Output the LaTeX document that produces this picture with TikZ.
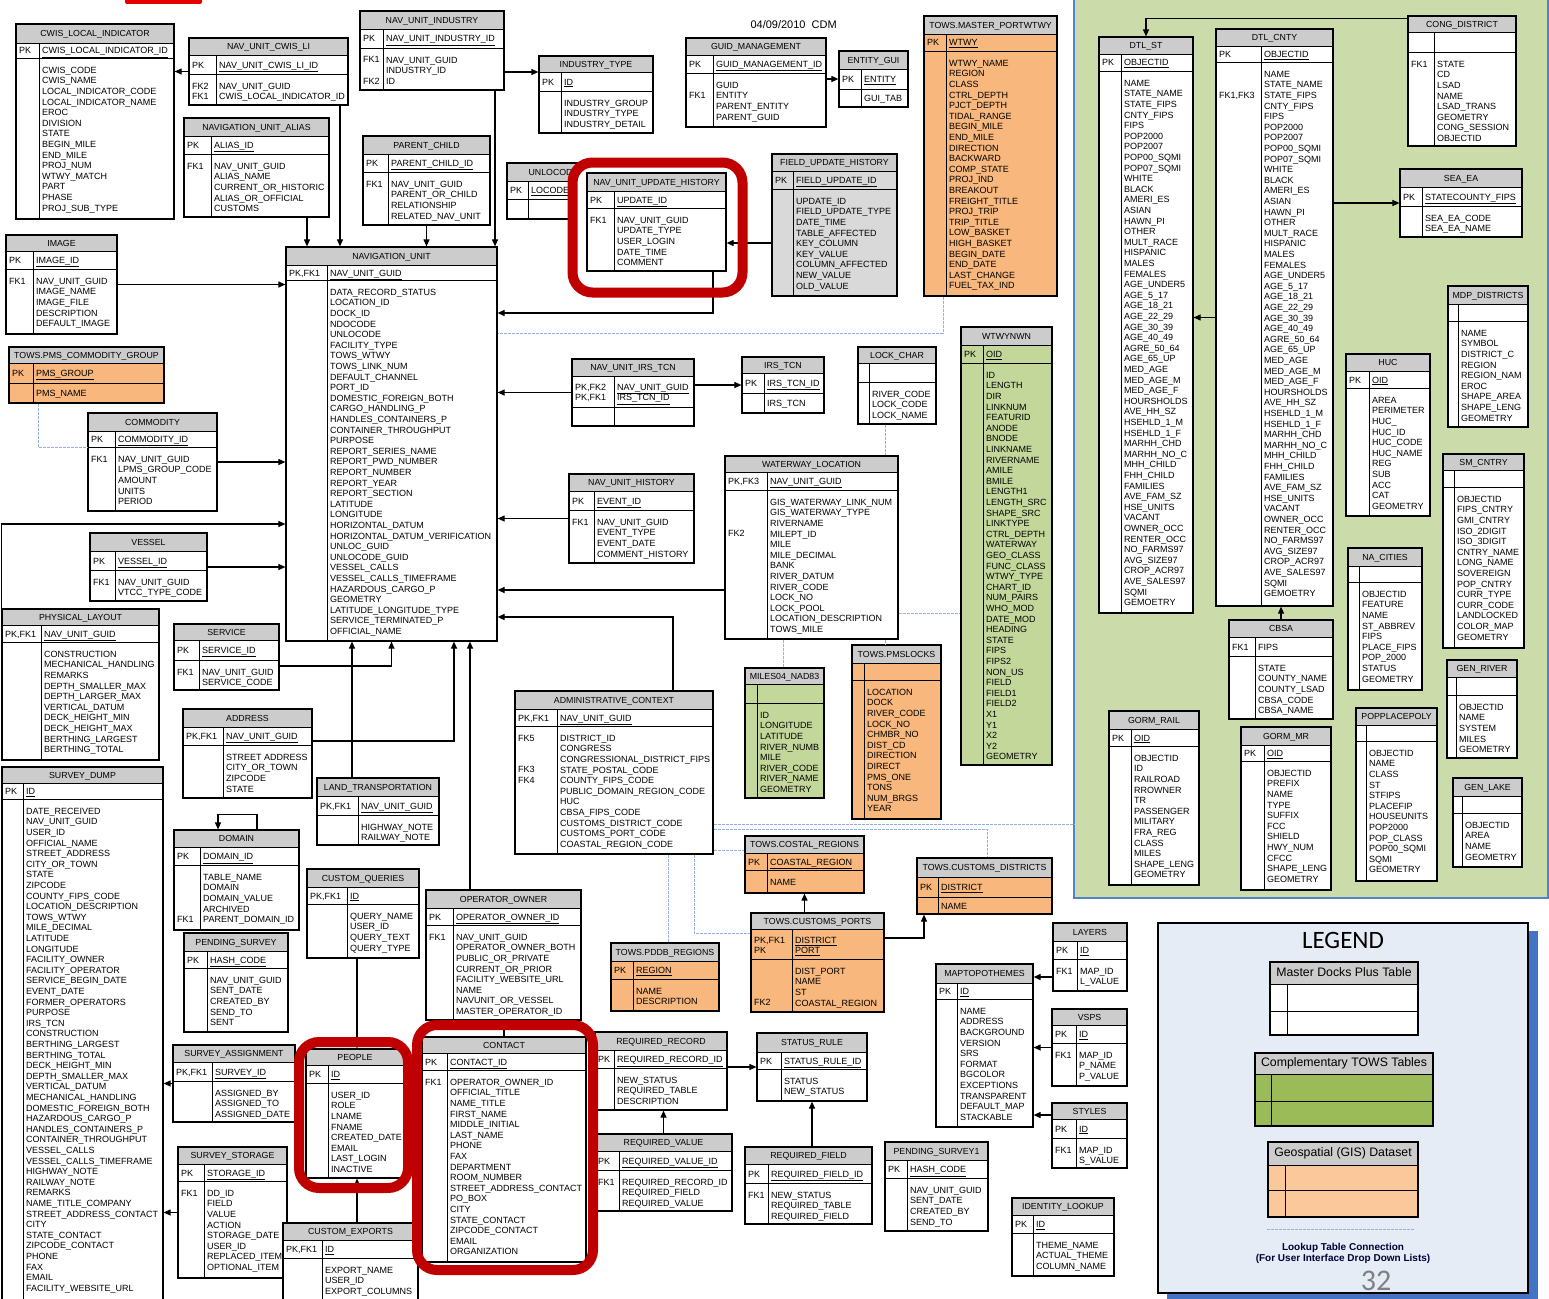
\documentclass[tikz,border=0pt]{standalone}
\usepackage{fontspec}
\setmainfont{Liberation Sans}
\newfontfamily\legendfont{Carlito}
\usetikzlibrary{arrows.meta,fit}

\definecolor{titlegray}{RGB}{204,204,204}
\definecolor{towsorange}{RGB}{247,183,125}
\definecolor{gislight}{RGB}{196,215,155}
\definecolor{fuhgray}{RGB}{217,217,217}
\definecolor{panelgreen}{RGB}{203,219,170}
\definecolor{panelblue}{RGB}{84,130,196}
\definecolor{lookupblue}{RGB}{150,175,225}
\definecolor{markred}{RGB}{192,0,0}
\definecolor{legendbg}{RGB}{230,236,246}
\definecolor{legendshadow}{RGB}{68,114,196}
\definecolor{legendgreen}{RGB}{155,187,89}
\definecolor{legendorange}{RGB}{250,200,155}

\newcommand{\erstrut}{\rule{0pt}{8pt}}
\newcommand{\pkul}[1]{\underline{#1}}
\newcommand{\legfont}{\fontsize{12.3}{14}\selectfont}
\def\erparse#1,#2,#3,#4,#5,#6,#7\relax{\def\erL{#1}\def\erT{#2}\def\erR{#3}\def\erK{#4}\def\erH{#5}\def\erP{#6}\def\erB{#7}}
% [body fill]{name}{left,top,right,key column}{title bottom,pk bottom,bottom}{title}{pk labels}{pk fields}{line/fk label}{fields}
\newcommand{\ertable}[9][white]{%
  \erparse#3,#4\relax
  \pgfmathsetmacro\erQ{\erH+min((\erP-\erH)/2+3.3,14)}%
  \pgfmathsetmacro\erF{\erP+min(15,(\erB-\erP)/2+3.3)}%
  \fill[#1] (\erL,\erH) rectangle (\erR,\erB);
  \fill[titlegray] (\erL,\erT) rectangle (\erR,\erH);
  \draw[erline] (\erL,\erH) -- (\erR,\erH) (\erL,\erP) -- (\erR,\erP) (\erK,\erH) -- (\erK,\erB);
  \node[erbox, fit={(\erL,\erT) (\erR,\erB)}] (#2) {};
  \node[ertitle] (#2t) at ({(\erL+\erR)/2},{(\erT+\erH)/2}) {#5};
  \node[ertext] (#2k) at (\erL,\erQ-8) {\erstrut#6};
  \node[ertext] (#2p) at (\erK,\erQ-8) {\erstrut#7};
  \node[ertext] (#2f) at (\erK,\erF-8) {\erstrut#9};
  \def\erfk{#8}%
  \ifx\erfk\empty\else
    \foreach \erline/\erlab in {#8}
      \node[ertext, anchor=base west] (#2fk\erline) at (\erL,{\erF+(\erline-1)*10.6}) {\erlab};
  \fi}

\begin{document}
\catcode`\_=12
\newcommand{\dtlfields}{NAME\\STATE_NAME\\STATE_FIPS\\CNTY_FIPS\\FIPS\\POP2000\\POP2007\\POP00_SQMI\\POP07_SQMI\\WHITE\\BLACK\\AMERI_ES\\ASIAN\\HAWN_PI\\OTHER\\MULT_RACE\\HISPANIC\\MALES\\FEMALES\\AGE_UNDER5\\AGE_5_17\\AGE_18_21\\AGE_22_29\\AGE_30_39\\AGE_40_49\\AGRE_50_64\\AGE_65_UP\\MED_AGE\\MED_AGE_M\\MED_AGE_F\\HOURSHOLDS\\AVE_HH_SZ\\HSEHLD_1_M\\HSEHLD_1_F\\MARHH_CHD\\MARHH_NO_C\\MHH_CHILD\\FHH_CHILD\\FAMILIES\\AVE_FAM_SZ\\HSE_UNITS\\VACANT\\OWNER_OCC\\RENTER_OCC\\NO_FARMS97\\AVG_SIZE97\\CROP_ACR97\\AVE_SALES97\\SQMI\\GEMOETRY}
\begin{tikzpicture}[x=1pt, y=-1pt,
  erbox/.style={draw, line width=1.2pt, inner sep=0pt},
  erline/.style={line width=0.9pt},
  ertitle/.style={inner sep=0pt, text height=6.4pt, text depth=0pt, font=\fontsize{8.8}{10}\selectfont},
  ertext/.style={anchor=north west, inner xsep=3pt, inner ysep=0pt, align=left, font=\fontsize{9}{10.6}\selectfont},
  fk/.style={draw, line width=1.1pt, -{Triangle[length=7pt, width=6pt]}},
  lookup/.style={draw=lookupblue, line width=0.8pt, dash pattern=on 3pt off 1pt},
  redmark/.style={draw=markred, line width=10pt, rounded corners=20pt}]
\useasboundingbox (0,0) rectangle (1549,1298);
\clip (0,0) rectangle (1549,1298);

% GIS panel and legend background
\fill[panelgreen] (1074,-2) rectangle (1548,898);
\draw[panelblue, line width=1.5pt] (1074,-2) -- (1074,898) -- (1548,898) -- (1548,-2);
\coordinate (gisedge) at (1074,824);
\fill[legendshadow] (1167,931) rectangle (1538,1302);
\filldraw[fill=legendbg, line width=1.2pt] (1158,923) rectangle (1528,1293);
\fill[red!90!black, rounded corners=2pt] (125,-4) rectangle (202,4);
\node[anchor=west, font=\fontsize{11}{12}\selectfont] (stamp) at (747,25) {04/09/2010\ \ CDM};

% master docks tables
\ertable{cwis}{16,24,174,39}{43,58,219}{CWIS_LOCAL_INDICATOR}{PK}{\pkul{CWIS_LOCAL_INDICATOR_ID}}{}{CWIS_CODE\\CWIS_NAME\\LOCAL_INDICATOR_CODE\\LOCAL_INDICATOR_NAME\\EROC\\DIVISION\\STATE\\BEGIN_MILE\\END_MILE\\PROJ_NUM\\WTWY_MATCH\\PART\\PHASE\\PROJ_SUB_TYPE}
\ertable{cwisli}{189,38,348,216}{55,74,105}{NAV_UNIT_CWIS_LI}{PK}{\pkul{NAV_UNIT_CWIS_LI_ID}}{1/FK2,2/FK1}{NAV_UNIT_GUID\\CWIS_LOCAL_INDICATOR_ID}
\ertable{alias}{184,118,329,211}{136,154,217}{NAVIGATION_UNIT_ALIAS}{PK}{\pkul{ALIAS_ID}}{1/FK1}{NAV_UNIT_GUID\\ALIAS_NAME\\CURRENT_OR_HISTORIC\\ALIAS_OR_OFFICIAL\\CUSTOMS}
\ertable{industry}{360,11,504,383}{29,48,90}{NAV_UNIT_INDUSTRY}{PK}{\pkul{NAV_UNIT_INDUSTRY_ID}}{1/FK1,3/FK2}{NAV_UNIT_GUID\\INDUSTRY_ID\\ID}
\ertable{indtype}{539,56,653,561}{72,91,133}{INDUSTRY_TYPE}{PK}{\pkul{ID}}{}{INDUSTRY_GROUP\\INDUSTRY_TYPE\\INDUSTRY_DETAIL}
\ertable{guid}{686,38,826,713}{55,73,127}{GUID_MANAGEMENT}{PK}{\pkul{GUID_MANAGEMENT_ID}}{2/FK1}{GUID\\ENTITY\\PARENT_ENTITY\\PARENT_GUID}
\ertable{entity}{839,51,908,861}{69,89,107}{ENTITY_GUI}{PK}{\pkul{ENTITY}}{}{GUI_TAB}
\ertable[towsorange]{portwtwy}{924,16,1057,946}{34,51,296}{TOWS.MASTER_PORTWTWY}{PK}{\pkul{WTWY}}{}{WTWY_NAME\\REGION\\CLASS\\CTRL_DEPTH\\PJCT_DEPTH\\TIDAL_RANGE\\BEGIN_MILE\\END_MILE\\DIRECTION\\BACKWARD\\COMP_STATE\\PROJ_IND\\BREAKOUT\\FREIGHT_TITLE\\PROJ_TRIP\\TRIP_TITLE\\LOW_BASKET\\HIGH_BASKET\\BEGIN_DATE\\END_DATE\\LAST_CHANGE\\FUEL_TAX_IND}
\ertable{parent}{363,136,490,388}{154,172,225}{PARENT_CHILD}{PK}{\pkul{PARENT_CHILD_ID}}{1/FK1}{NAV_UNIT_GUID\\PARENT_OR_CHILD\\RELATIONSHIP\\RELATED_NAV_UNIT}
\ertable{unlocode}{507,163,600,528}{181,199,219}{UNLOCODE}{PK}{\pkul{LOCODE}}{}{}
\ertable[fuhgray]{fuh}{772,154,897,793}{171,189,296}{FIELD_UPDATE_HISTORY}{PK}{\pkul{FIELD_UPDATE_ID}}{}{UPDATE_ID\\FIELD_UPDATE_TYPE\\DATE_TIME\\TABLE_AFFECTED\\KEY_COLUMN\\KEY_VALUE\\COLUMN_AFFECTED\\NEW_VALUE\\OLD_VALUE}
\ertable{image}{6,235,117,33}{251,269,334}{IMAGE}{PK}{\pkul{IMAGE_ID}}{1/FK1}{NAV_UNIT_GUID\\IMAGE_NAME\\IMAGE_FILE\\DESCRIPTION\\DEFAULT_IMAGE}
\ertable{navunit}{286,247,497,327}{265,280,641}{NAVIGATION_UNIT}{PK,FK1}{\pkul{NAV_UNIT_GUID}}{}{DATA_RECORD_STATUS\\LOCATION_ID\\DOCK_ID\\NDOCODE\\UNLOCODE\\FACILITY_TYPE\\TOWS_WTWY\\TOWS_LINK_NUM\\DEFAULT_CHANNEL\\PORT_ID\\DOMESTIC_FOREIGN_BOTH\\CARGO_HANDLING_P\\HANDLES_CONTAINERS_P\\CONTAINER_THROUGHPUT\\PURPOSE\\REPORT_SERIES_NAME\\REPORT_PWD_NUMBER\\REPORT_NUMBER\\REPORT_YEAR\\REPORT_SECTION\\LATITUDE\\LONGITUDE\\HORIZONTAL_DATUM\\HORIZONTAL_DATUM_VERIFICATION\\UNLOC_GUID\\UNLOCODE_GUID\\VESSEL_CALLS\\VESSEL_CALLS_TIMEFRAME\\HAZARDOUS_CARGO_P\\GEOMETRY\\LATITUDE_LONGITUDE_TYPE\\SERVICE_TERMINATED_P\\OFFICIAL_NAME}
\ertable[towsorange]{pmsgroup}{9,347,164,33}{363,383,403}{TOWS.PMS_COMMODITY_GROUP}{PK}{\pkul{PMS_GROUP}}{}{PMS_NAME}
\ertable{commodity}{88,413,217,115}{431,447,511}{COMMODITY}{PK}{\pkul{COMMODITY_ID}}{1/FK1}{NAV_UNIT_GUID\\LPMS_GROUP_CODE\\AMOUNT\\UNITS\\PERIOD}
\ertable{vessel}{90,533,207,115}{551,570,601}{VESSEL}{PK}{\pkul{VESSEL_ID}}{1/FK1}{NAV_UNIT_GUID\\VTCC_TYPE_CODE}
\ertable{physical}{2,609,159,41}{625,642,760}{PHYSICAL_LAYOUT}{PK,FK1}{\pkul{NAV_UNIT_GUID}}{}{CONSTRUCTION\\MECHANICAL_HANDLING\\REMARKS\\DEPTH_SMALLER_MAX\\DEPTH_LARGER_MAX\\VERTICAL_DATUM\\DECK_HEIGHT_MIN\\DECK_HEIGHT_MAX\\BERTHING_LARGEST\\BERTHING_TOTAL}
\ertable{service}{174,624,279,199}{640,660,690}{SERVICE}{PK}{\pkul{SERVICE_ID}}{1/FK1}{NAV_UNIT_GUID\\SERVICE_CODE}
\ertable{address}{183,709,312,223}{727,745,798}{ADDRESS}{PK,FK1}{\pkul{NAV_UNIT_GUID}}{}{STREET ADDRESS\\CITY_OR_TOWN\\ZIPCODE\\STATE}
\ertable{landtr}{317,778,439,358}{796,815,845}{LAND_TRANSPORTATION}{PK,FK1}{\pkul{NAV_UNIT_GUID}}{}{HIGHWAY_NOTE\\RAILWAY_NOTE}
\ertable{surveydump}{2,767,163,23}{783,799,1310}{SURVEY_DUMP}{PK}{\pkul{ID}}{}{DATE_RECEIVED\\NAV_UNIT_GUID\\USER_ID\\OFFICIAL_NAME\\STREET_ADDRESS\\CITY_OR_TOWN\\STATE\\ZIPCODE\\COUNTY_FIPS_CODE\\LOCATION_DESCRIPTION\\TOWS_WTWY\\MILE_DECIMAL\\LATITUDE\\LONGITUDE\\FACILITY_OWNER\\FACILITY_OPERATOR\\SERVICE_BEGIN_DATE\\EVENT_DATE\\FORMER_OPERATORS\\PURPOSE\\IRS_TCN\\CONSTRUCTION\\BERTHING_LARGEST\\BERTHING_TOTAL\\DECK_HEIGHT_MIN\\DEPTH_SMALLER_MAX\\VERTICAL_DATUM\\MECHANICAL_HANDLING\\DOMESTIC_FOREIGN_BOTH\\HAZARDOUS_CARGO_P\\HANDLES_CONTAINERS_P\\CONTAINER_THROUGHPUT\\VESSEL_CALLS\\VESSEL_CALLS_TIMEFRAME\\HIGHWAY_NOTE\\RAILWAY_NOTE\\REMARKS\\NAME_TITLE_COMPANY\\STREET_ADDRESS_CONTACT\\CITY\\STATE_CONTACT\\ZIPCODE_CONTACT\\PHONE\\FAX\\EMAIL\\FACILITY_WEBSITE_URL}
\ertable{domain}{174,830,299,200}{847,865,930}{DOMAIN}{PK}{\pkul{DOMAIN_ID}}{5/FK1}{TABLE_NAME\\DOMAIN\\DOMAIN_VALUE\\ARCHIVED\\PARENT_DOMAIN_ID}
\ertable{customq}{307,869,419,347}{887,904,958}{CUSTOM_QUERIES}{PK,FK1}{\pkul{ID}}{}{QUERY_NAME\\USER_ID\\QUERY_TEXT\\QUERY_TYPE}
\ertable{pending}{184,933,288,207}{951,968,1032}{PENDING_SURVEY}{PK}{\pkul{HASH_CODE}}{}{NAV_UNIT_GUID\\SENT_DATE\\CREATED_BY\\SEND_TO\\SENT}
\ertable{surveyassign}{173,1045,295,212}{1062,1081,1122}{SURVEY_ASSIGNMENT}{PK,FK1}{\pkul{SURVEY_ID}}{}{ASSIGNED_BY\\ASSIGNED_TO\\ASSIGNED_DATE}
\ertable{surveystorage}{178,1147,287,204}{1164,1181,1278}{SURVEY_STORAGE}{PK}{\pkul{STORAGE_ID}}{1/FK1}{DD_ID\\FIELD\\VALUE\\ACTION\\STORAGE_DATE\\USER_ID\\REPLACED_ITEM\\OPTIONAL_ITEM}
\ertable{customexp}{283,1223,418,322}{1240,1258,1310}{CUSTOM_EXPORTS}{PK,FK1}{\pkul{ID}}{}{EXPORT_NAME\\USER_ID\\EXPORT_COLUMNS}
\ertable{oo}{426,890,581,453}{908,925,1020}{OPERATOR_OWNER}{PK}{\pkul{OPERATOR_OWNER_ID}}{1/FK1}{NAV_UNIT_GUID\\OPERATOR_OWNER_BOTH\\PUBLIC_OR_PRIVATE\\CURRENT_OR_PRIOR\\FACILITY_WEBSITE_URL\\NAME\\NAVUNIT_OR_VESSEL\\MASTER_OPERATOR_ID}
\ertable{ac}{515,691,713,557}{709,726,854}{ADMINISTRATIVE_CONTEXT}{PK,FK1}{\pkul{NAV_UNIT_GUID}}{1/FK5,4/FK3,5/FK4}{DISTRICT_ID\\CONGRESS\\CONGRESSIONAL_DISTRICT_FIPS\\STATE_POSTAL_CODE\\COUNTY_FIPS_CODE\\PUBLIC_DOMAIN_REGION_CODE\\HUC\\CBSA_FIPS_CODE\\CUSTOMS_DISTRICT_CODE\\CUSTOMS_PORT_CODE\\COASTAL_REGION_CODE}
\ertable{nuhist}{569,474,694,594}{491,510,563}{NAV_UNIT_HISTORY}{PK}{\pkul{EVENT_ID}}{1/FK1}{NAV_UNIT_GUID\\EVENT_TYPE\\EVENT_DATE\\COMMENT_HISTORY}
\ertable{wloc}{725,456,898,767}{472,490,639}{WATERWAY_LOCATION}{PK,FK3}{\pkul{NAV_UNIT_GUID}}{4/FK2}{GIS_WATERWAY_LINK_NUM\\GIS_WATERWAY_TYPE\\RIVERNAME\\MILEPT_ID\\MILE\\MILE_DECIMAL\\BANK\\RIVER_DATUM\\RIVER_CODE\\LOCK_NO\\LOCK_POOL\\LOCATION_DESCRIPTION\\TOWS_MILE}
\ertable{nuirs}{572,359,694,614}{376,407,426}{NAV_UNIT_IRS_TCN}{PK,FK2\\PK,FK1}{\pkul{NAV_UNIT_GUID}\\\pkul{IRS_TCN_ID}}{}{}
\ertable{irstcn}{742,357,824,764}{373,393,413}{IRS_TCN}{PK}{\pkul{IRS_TCN_ID}}{}{IRS_TCN}
\ertable{lockchar}{858,347,936,869}{363,382,424}{LOCK_CHAR}{}{}{}{RIVER_CODE\\LOCK_CODE\\LOCK_NAME}
\ertable[gislight]{wtwynwn}{961,327,1052,983}{345,363,765}{WTWYNWN}{PK}{\pkul{OID}}{}{ID\\LENGTH\\DIR\\LINKNUM\\FEATURID\\ANODE\\BNODE\\LINKNAME\\RIVERNAME\\AMILE\\BMILE\\LENGTH1\\LENGTH_SRC\\SHAPE_SRC\\LINKTYPE\\CTRL_DEPTH\\WATERWAY\\GEO_CLASS\\FUNC_CLASS\\WTWY_TYPE\\CHART_ID\\NUM_PAIRS\\WHO_MOD\\DATE_MOD\\HEADING\\STATE\\FIPS\\FIPS2\\NON_US\\FIELD\\FIELD1\\FIELD2\\X1\\Y1\\X2\\Y2\\GEOMETRY}
\ertable[gislight]{miles}{745,668,824,757}{684,703,798}{MILES04_NAD83}{}{}{}{ID\\LONGITUDE\\LATITUDE\\RIVER_NUMB\\MILE\\RIVER_CODE\\RIVER_NAME\\GEOMETRY}
\ertable[towsorange]{pmslocks}{852,645,941,864}{663,680,819}{TOWS.PMSLOCKS}{}{}{}{LOCATION\\DOCK\\RIVER_CODE\\LOCK_NO\\CHMBR_NO\\DIST_CD\\DIRECTION\\DIRECT\\PMS_ONE\\TONS\\NUM_BRGS\\YEAR}
\ertable[towsorange]{costal}{745,836,864,767}{853,870,893}{TOWS.COSTAL_REGIONS}{PK}{\pkul{COASTAL_REGION}}{}{NAME}
\ertable[towsorange]{cports}{751,913,884,792}{929,959,1012}{TOWS.CUSTOMS_PORTS}{PK,FK1\\PK}{\pkul{DISTRICT}\\\pkul{PORT}}{4/FK2}{DIST_PORT\\NAME\\ST\\COASTAL_REGION}
\ertable[towsorange]{cdistricts}{917,858,1052,938}{877,897,914}{TOWS.CUSTOMS_DISTRICTS}{PK}{\pkul{DISTRICT}}{}{NAME}
\ertable[towsorange]{pddb}{611,943,719,633}{961,979,1011}{TOWS.PDDB_REGIONS}{PK}{\pkul{REGION}}{}{NAME\\DESCRIPTION}
\ertable{reqrec}{595,1032,727,614}{1050,1068,1110}{REQUIRED_RECORD}{PK}{\pkul{REQUIRED_RECORD_ID}}{}{NEW_STATUS\\REQUIRED_TABLE\\DESCRIPTION}
\ertable{reqval}{595,1134,732,619}{1151,1170,1211}{REQUIRED_VALUE}{PK}{\pkul{REQUIRED_VALUE_ID}}{1/FK1}{REQUIRED_RECORD_ID\\REQUIRED_FIELD\\REQUIRED_VALUE}
\ertable{statusrule}{757,1033,867,781}{1052,1069,1101}{STATUS_RULE}{PK}{\pkul{STATUS_RULE_ID}}{}{STATUS\\NEW_STATUS}
\ertable{reqfield}{745,1147,872,768}{1164,1183,1224}{REQUIRED_FIELD}{PK}{\pkul{REQUIRED_FIELD_ID}}{1/FK1}{NEW_STATUS\\REQUIRED_TABLE\\REQUIRED_FIELD}
\ertable{pending1}{885,1142,988,907}{1160,1178,1231}{PENDING_SURVEY1}{PK}{\pkul{HASH_CODE}}{}{NAV_UNIT_GUID\\SENT_DATE\\CREATED_BY\\SEND_TO}
\ertable{maptopo}{936,964,1033,957}{983,999,1127}{MAPTOPOTHEMES}{PK}{\pkul{ID}}{}{NAME\\ADDRESS\\BACKGROUND\\VERSION\\SRS\\FORMAT\\BGCOLOR\\EXCEPTIONS\\TRANSPARENT\\DEFAULT_MAP\\STACKABLE}
\ertable{layers}{1053,923,1127,1077}{941,959,991}{LAYERS}{PK}{\pkul{ID}}{1/FK1}{MAP_ID\\L_VALUE}
\ertable{vsps}{1052,1009,1127,1076}{1025,1043,1086}{VSPS}{PK}{\pkul{ID}}{1/FK1}{MAP_ID\\P_NAME\\P_VALUE}
\ertable{styles}{1052,1103,1127,1076}{1119,1138,1168}{STYLES}{PK}{\pkul{ID}}{1/FK1}{MAP_ID\\S_VALUE}
\ertable{identity}{1012,1198,1114,1033}{1215,1233,1276}{IDENTITY_LOOKUP}{PK}{\pkul{ID}}{}{THEME_NAME\\ACTUAL_THEME\\COLUMN_NAME}

% GIS tables
\ertable{dtlst}{1099,37,1193,1121}{54,71,613}{DTL_ST}{PK}{\pkul{OBJECTID}}{}{\dtlfields}
\ertable{dtlcnty}{1216,29,1333,1261}{46,62,606}{DTL_CNTY}{PK}{\pkul{OBJECTID}}{3/{FK1,FK3}}{\dtlfields}
\ertable{congdist}{1408,16,1516,1434}{32,52,146}{CONG_DISTRICT}{}{}{1/FK1}{STATE\\CD\\LSAD\\NAME\\LSAD_TRANS\\GEOMETRY\\CONG_SESSION\\OBJECTID}
\ertable{seaea}{1400,169,1522,1422}{187,206,237}{SEA_EA}{PK}{\pkul{STATECOUNTY_FIPS}}{}{SEA_EA_CODE\\SEA_EA_NAME}
\ertable{mdp}{1448,286,1528,1458}{304,321,427}{MDP_DISTRICTS}{}{}{}{NAME\\SYMBOL\\DISTRICT_C\\REGION\\REGION_NAM\\EROC\\SHAPE_AREA\\SHAPE_LENG\\GEOMETRY}
\ertable{huc}{1346,354,1430,1369}{371,388,516}{HUC}{PK}{\pkul{OID}}{}{AREA\\PERIMETER\\HUC_\\HUC_ID\\HUC_CODE\\HUC_NAME\\REG\\SUB\\ACC\\CAT\\GEOMETRY}
\ertable{cbsa}{1229,620,1333,1255}{637,656,719}{CBSA}{FK1}{FIPS}{}{STATE\\COUNTY_NAME\\COUNTY_LSAD\\CBSA_CODE\\CBSA_NAME}
\ertable{nacities}{1348,548,1422,1359}{566,582,690}{NA_CITIES}{}{}{}{OBJECTID\\FEATURE\\NAME\\ST_ABBREV\\FIPS\\PLACE_FIPS\\POP_2000\\STATUS\\GEOMETRY}
\ertable{smcntry}{1443,454,1524,1454}{470,487,648}{SM_CNTRY}{}{}{}{OBJECTID\\FIPS_CNTRY\\GMI_CNTRY\\ISO_2DIGIT\\ISO_3DIGIT\\CNTRY_NAME\\LONG_NAME\\SOVEREIGN\\POP_CNTRY\\CURR_TYPE\\CURR_CODE\\LANDLOCKED\\COLOR_MAP\\GEOMETRY}
\ertable{genriver}{1447,660,1517,1456}{677,695,758}{GEN_RIVER}{}{}{}{OBJECTID\\NAME\\SYSTEM\\MILES\\GEOMETRY}
\ertable{genlake}{1453,778,1522,1462}{796,813,867}{GEN_LAKE}{}{}{}{OBJECTID\\AREA\\NAME\\GEOMETRY}
\ertable{popplace}{1356,708,1437,1366}{725,741,881}{POPPLACEPOLY}{}{}{}{OBJECTID\\NAME\\CLASS\\ST\\STFIPS\\PLACEFIP\\HOUSEUNITS\\POP2000\\POP_CLASS\\POP00_SQMI\\SQMI\\GEOMETRY}
\ertable{gormmr}{1241,727,1331,1264}{745,761,890}{GORM_MR}{PK}{\pkul{OID}}{}{OBJECTID\\PREFIX\\NAME\\TYPE\\SUFFIX\\FCC\\SHIELD\\HWY_NUM\\CFCC\\SHAPE_LENG\\GEOMETRY}
\ertable{gormrail}{1109,711,1199,1131}{729,746,885}{GORM_RAIL}{PK}{\pkul{OID}}{}{OBJECTID\\ID\\RAILROAD\\RROWNER\\TR\\PASSENGER\\MILITARY\\FRA_REG\\CLASS\\MILES\\SHAPE_LENG\\GEOMETRY}

% legend
\node[font=\legendfont\fontsize{25}{26}\selectfont] (legendtitle) at (1343,940) {LEGEND};
\ertable{legmaster}{1270,962,1418,1287}{984,1011,1035}{\legfont Master Docks Plus Table}{}{}{}{}
\ertable[legendgreen]{legtows}{1255,1053,1433,1271}{1074,1101,1126}{\legfont Complementary TOWS Tables}{}{}{}{}
\ertable[legendorange]{leggis}{1268,1142,1418,1285}{1165,1190,1217}{\legfont Geospatial (GIS) Dataset}{}{}{}{}
\draw[lookup] ([yshift=-12pt]leggis.south west) -- ([yshift=-12pt, xshift=-5pt]leggis.south east);
\node[font=\bfseries\fontsize{10}{11}\selectfont, text=black!80!blue, align=center] (lookupnote) at (1343,1253) {Lookup Table Connection\\(For User Interface Drop Down Lists)};
\node[font=\legendfont\fontsize{30}{30}\selectfont, text=gray] (pagenum) at (1376,1281) {32};

% highlighted tables
\fill[white, rounded corners=20pt] (572.5,162.5) rectangle (742.5,292.5);
\fill[white, rounded corners=20pt] (299,1042) rectangle (408,1188);
\fill[white, rounded corners=20pt] (417,1025) rectangle (593,1270);
\ertable{nuuh}{587,173,726,614}{191,208,271}{NAV_UNIT_UPDATE_HISTORY}{PK}{\pkul{UPDATE_ID}}{1/FK1}{NAV_UNIT_GUID\\UPDATE_TYPE\\USER_LOGIN\\DATE_TIME\\COMMENT}
\ertable{people}{306,1049,404,328}{1065,1083,1178}{PEOPLE}{PK}{\pkul{ID}}{}{USER_ID\\ROLE\\LNAME\\FNAME\\CREATED_DATE\\EMAIL\\LAST_LOGIN\\INACTIVE}
\ertable{contact}{422,1037,586,447}{1053,1070,1262}{CONTACT}{PK}{\pkul{CONTACT_ID}}{1/FK1}{OPERATOR_OWNER_ID\\OFFICIAL_TITLE\\NAME_TITLE\\FIRST_NAME\\MIDDLE_INITIAL\\LAST_NAME\\PHONE\\FAX\\DEPARTMENT\\ROOM_NUMBER\\STREET_ADDRESS_CONTACT\\PO_BOX\\CITY\\STATE_CONTACT\\ZIPCODE_CONTACT\\EMAIL\\ORGANIZATION}

% foreign keys
\draw[fk] (cwisli.west) -- (cwisli.west -| cwis.east);
\draw[fk] ([xshift=71.5pt]cwisli.south) -- ([xshift=-51.5pt]navunit.north);
\draw[fk] ([xshift=50.5pt]alias.south) -- ([xshift=-84.5pt]navunit.north);
\draw[fk] (parent.south) -- (parent.south |- navunit.north);
\draw[fk] ([xshift=63pt]industry.south) -- ([xshift=103.5pt]navunit.north);
\draw[fk] ([yshift=-21.5pt]industry.east) -- ([yshift=22.5pt]indtype.west);
\draw[fk] (entity.west -| guid.east) -- (entity.west);
\draw[fk] ([xshift=56.5pt]nuuh.south) |- ([yshift=131pt]navunit.east);
\draw[fk] ([yshift=-18pt]fuh.west) -- ([yshift=-21pt]nuuh.east);
\draw[fk] (image.east) -- (image.east -| navunit.west);
\draw[fk] (commodity.east) -- (commodity.east -| navunit.west);
\draw[fk] (vessel.east) -- (vessel.east -| navunit.west);
\draw[fk] (physical.north west) |- ([yshift=-80pt]navunit.west);
\draw[fk] (nuirs.west) -- (nuirs.west -| navunit.east);
\draw[fk] (irstcn.west -| nuirs.east) -- (irstcn.west);
\draw[fk] (nuhist.west) -- (nuhist.west -| navunit.east);
\draw[fk] ([yshift=-42.5pt]wloc.west) -- ([yshift=-146pt]navunit.east);
\draw[fk] ([xshift=59pt]ac.north) |- ([yshift=-173pt]navunit.east);
\draw[fk] ([yshift=-9pt]service.east) -| (navunit.south);
\draw[fk] ([yshift=12.5pt]address.east) -| ([xshift=62.5pt]navunit.south);
\draw[fk] ([xshift=-33.5pt]oo.north) -- ([xshift=78.5pt]navunit.south);
\draw[fk] ([xshift=-26pt]landtr.north) -- ([xshift=-39.5pt]navunit.south);
\draw[fk] ([xshift=20.5pt]domain.north) -- ++(0,-15) -| ([xshift=-18.5pt]domain.north);
\draw[fk] (surveyassign.west) -- (surveyassign.west -| surveydump.east);
\draw[fk] (surveystorage.west) -- (surveystorage.west -| surveydump.east);
\draw[fk] ([xshift=-6pt]customq.south) -- ([xshift=2pt]people.north);
\draw[fk] ([xshift=6.5pt]customexp.north) -- ([xshift=2pt]people.south);
\draw[fk] (contact.north) -- (contact.north |- oo.south);
\draw[fk] (statusrule.west -| reqrec.east) -- (statusrule.west);
\draw[fk] (reqval.north) -- (reqval.north |- reqrec.south);
\draw[fk] (statusrule.south |- reqfield.north) -- (statusrule.south);
\draw[fk] (costal.south |- cports.north) -- (costal.south);
\draw[fk] ([yshift=24.5pt]cports.east) -| ([xshift=-60.5pt]cdistricts.south);
\draw[fk] ([yshift=-20pt]layers.west) -- ([yshift=68.5pt]maptopo.east);
\draw[fk] (vsps.west) -- (vsps.west -| maptopo.east);
\draw[fk] ([yshift=20.5pt]styles.west) -- ([yshift=-69.5pt]maptopo.east);
\draw[fk] ([yshift=-3pt]congdist.north west) -| (dtlst.north);
\draw[fk] (dtlcnty.west) -- (dtlcnty.west -| dtlst.east);
\draw[fk] (seaea.west -| dtlcnty.east) -- (seaea.west);
\draw[fk] (cbsa.north) -- (cbsa.north |- dtlcnty.south);

% lookup connections
\draw[lookup] ([xshift=-48.5pt]pmsgroup.south) |- ([yshift=15pt]commodity.west);
\draw[lookup] ([xshift=-47.5pt]portwtwy.south) |- ([yshift=111pt]navunit.east);
\draw[lookup] ([xshift=-12pt]lockchar.south) -- ([xshift=73.5pt]wloc.north);
\draw[lookup] ([xshift=73.5pt]wloc.south) -- ([xshift=-11.5pt]pmslocks.north);
\draw[lookup] ([xshift=-28.5pt]wloc.south) -- ([xshift=-1.5pt]miles.north);
\draw[lookup] ([yshift=-65.5pt]wloc.east) -- ([yshift=-67pt]wtwynwn.west);
\draw[lookup] ([yshift=-51.5pt]ac.east) -- (gisedge);
\draw[lookup] ([yshift=-56.5pt]ac.east) -| ([xshift=2.5pt]cdistricts.north);
\draw[lookup] ([yshift=-77.5pt]ac.east) -- ([yshift=14.5pt]costal.west);
\draw[lookup] ([xshift=54pt]ac.south) -- ([xshift=3pt]pddb.north);
\draw[lookup] ([xshift=80pt]ac.south) |- ([yshift=29.5pt]cports.west);

% red highlight frames
\draw[redmark] (572.5,162.5) rectangle (742.5,292.5);
\draw[redmark] (299,1042) rectangle (408,1188);
\draw[redmark] (417,1025) rectangle (593,1270);
\end{tikzpicture}
\end{document}
